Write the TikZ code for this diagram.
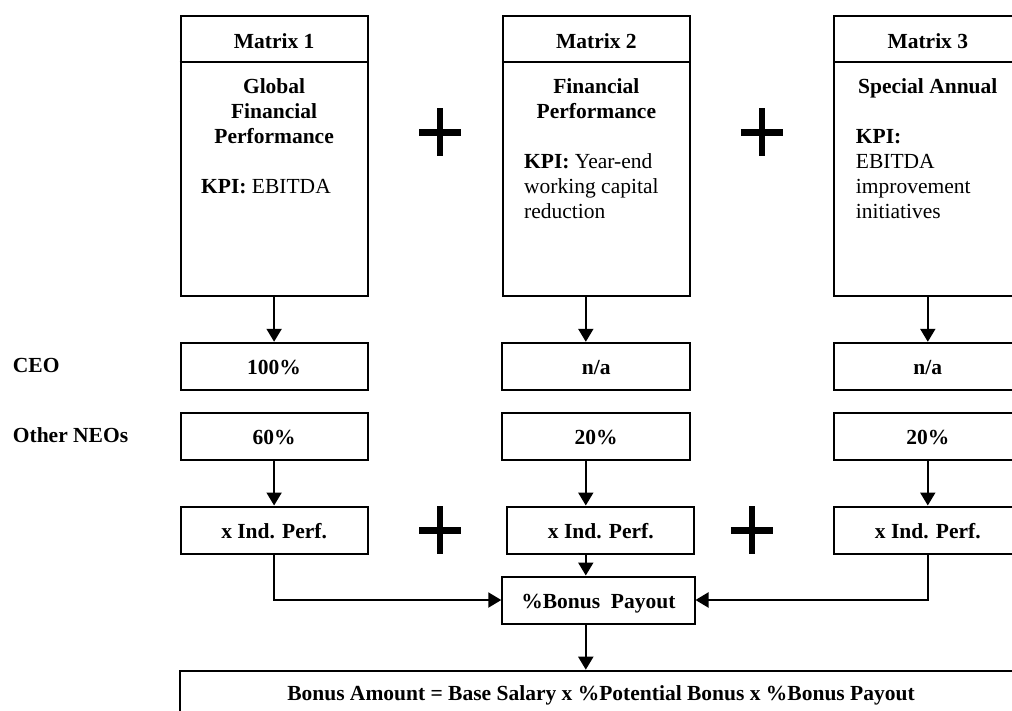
\documentclass[tikz,border=0pt]{standalone}
\usepackage{fontspec}
\setmainfont{Liberation Serif}
\usetikzlibrary{arrows.meta}
\begin{document}
\begin{tikzpicture}[x=1pt,y=-1pt,
  every node/.style={font=\fontsize{21.5}{25}\selectfont\bfseries, inner sep=0pt},
  box/.style={draw, line width=2pt, minimum height=47pt, text height=16pt, text depth=0pt},
  mbox/.style={draw, line width=2pt, minimum width=187pt, minimum height=280pt},
  arr/.style={line width=2pt, -{Triangle[width=15pt,length=13pt]}},
  plussign/.pic={\draw[line width=6.5pt] (-21,0) -- (21,0) (0,-24) -- (0,24);}
]
\useasboundingbox (0,0) rectangle (1012,711);
\clip (0,0) rectangle (1012,711);

% Matrix boxes
\node[mbox] (m1) at (274.1,155.7) {};
\node[mbox] (m2) at (596.35,155.7) {};
\node[mbox] (m3) at (927.8,155.7) {};
\coordinate (hd) at (0,62.3);
\draw[line width=2pt] (m1.west |- hd) -- (m1.east |- hd);
\draw[line width=2pt] (m2.west |- hd) -- (m2.east |- hd);
\draw[line width=2pt] (m3.west |- hd) -- (m3.east |- hd);

\node[anchor=base] (h1) at (274.1,48.3) {Matrix 1};
\node[anchor=base] (h2) at (596.35,48.3) {Matrix 2};
\node[anchor=base] (h3) at (927.8,48.3) {Matrix 3};

% multi-line nodes: base anchor = baseline of last line
\node[anchor=base, align=center] (t1) at (274.1,143.3) {Global\\Financial\\Performance};
\node[anchor=base west, align=left] (k1) at (201,193.8) {KPI: \mdseries EBITDA};

\node[anchor=base, align=center] (t2) at (596.35,118.3) {Financial\\Performance};
\node[anchor=base west, align=left] (k2) at (524,218.3) {KPI: \mdseries Year-end\\\mdseries working capital\\\mdseries reduction};

\node[anchor=base, align=center] (t3) at (927.8,93.3) {Special Annual};
\node[anchor=base west, align=left] (k3) at (855.7,218.3) {KPI:\\\mdseries EBITDA\\\mdseries improvement\\\mdseries initiatives};

% Row labels
\node[anchor=base west] (lceo) at (12.7,372) {CEO};
\node[anchor=base west] (lneo) at (12.7,442.7) {Other NEOs};

% CEO row
\node[box, minimum width=187.2pt] (ceo1) at (274.1,366.3) {100\%};
\node[box, minimum width=187.7pt] (ceo2) at (596.2,366.3) {n/a};
\node[box, minimum width=187pt] (ceo3) at (927.8,366.3) {n/a};

% Other NEOs row
\node[box, minimum width=187.2pt] (neo1) at (274.1,436.7) {60\%};
\node[box, minimum width=187.7pt] (neo2) at (596.0,436.7) {20\%};
\node[box, minimum width=187pt] (neo3) at (927.8,436.7) {20\%};

% Individual performance row
\node[box, minimum width=187.2pt] (ind1) at (274.1,530) {x Ind. Perf.};
\node[box, minimum width=187.2pt] (ind2) at (600.8,530) {x Ind. Perf.};
\node[box, minimum width=187pt] (ind3) at (927.8,530) {x Ind. Perf.};

% Bonus payout
\node[box, minimum width=192.2pt] (bonus) at (598.4,600) {\%Bonus\ \ Payout};

% Bottom box
\node[box, minimum width=842pt, text height=13pt] (bot) at (601,694.2) {Bonus Amount = Base Salary x \%Potential Bonus x \%Bonus Payout};

% Plus signs
\pic at (440,132.5) {plussign};
\pic at (761.8,132.5) {plussign};
\pic at (440,530.3) {plussign};
\pic at (751.8,530.3) {plussign};

% Connectors
\coordinate (c2) at (585.8,0);
\draw[arr] (m1.south) -- (ceo1.north);
\draw[arr] (m2.south -| c2) -- (ceo2.north -| c2);
\draw[arr] (m3.south) -- (ceo3.north);
\draw[arr] (neo1.south) -- (ind1.north);
\draw[arr] (neo2.south -| c2) -- (ind2.north -| c2);
\draw[arr] (neo3.south) -- (ind3.north);
\draw[arr] (ind2.south -| c2) -- (bonus.north -| c2);
\draw[arr] (ind1.south) |- (bonus.west);
\draw[arr] (ind3.south) |- (bonus.east);
\draw[arr] (bonus.south -| c2) -- (bot.north -| c2);
\end{tikzpicture}
\end{document}
